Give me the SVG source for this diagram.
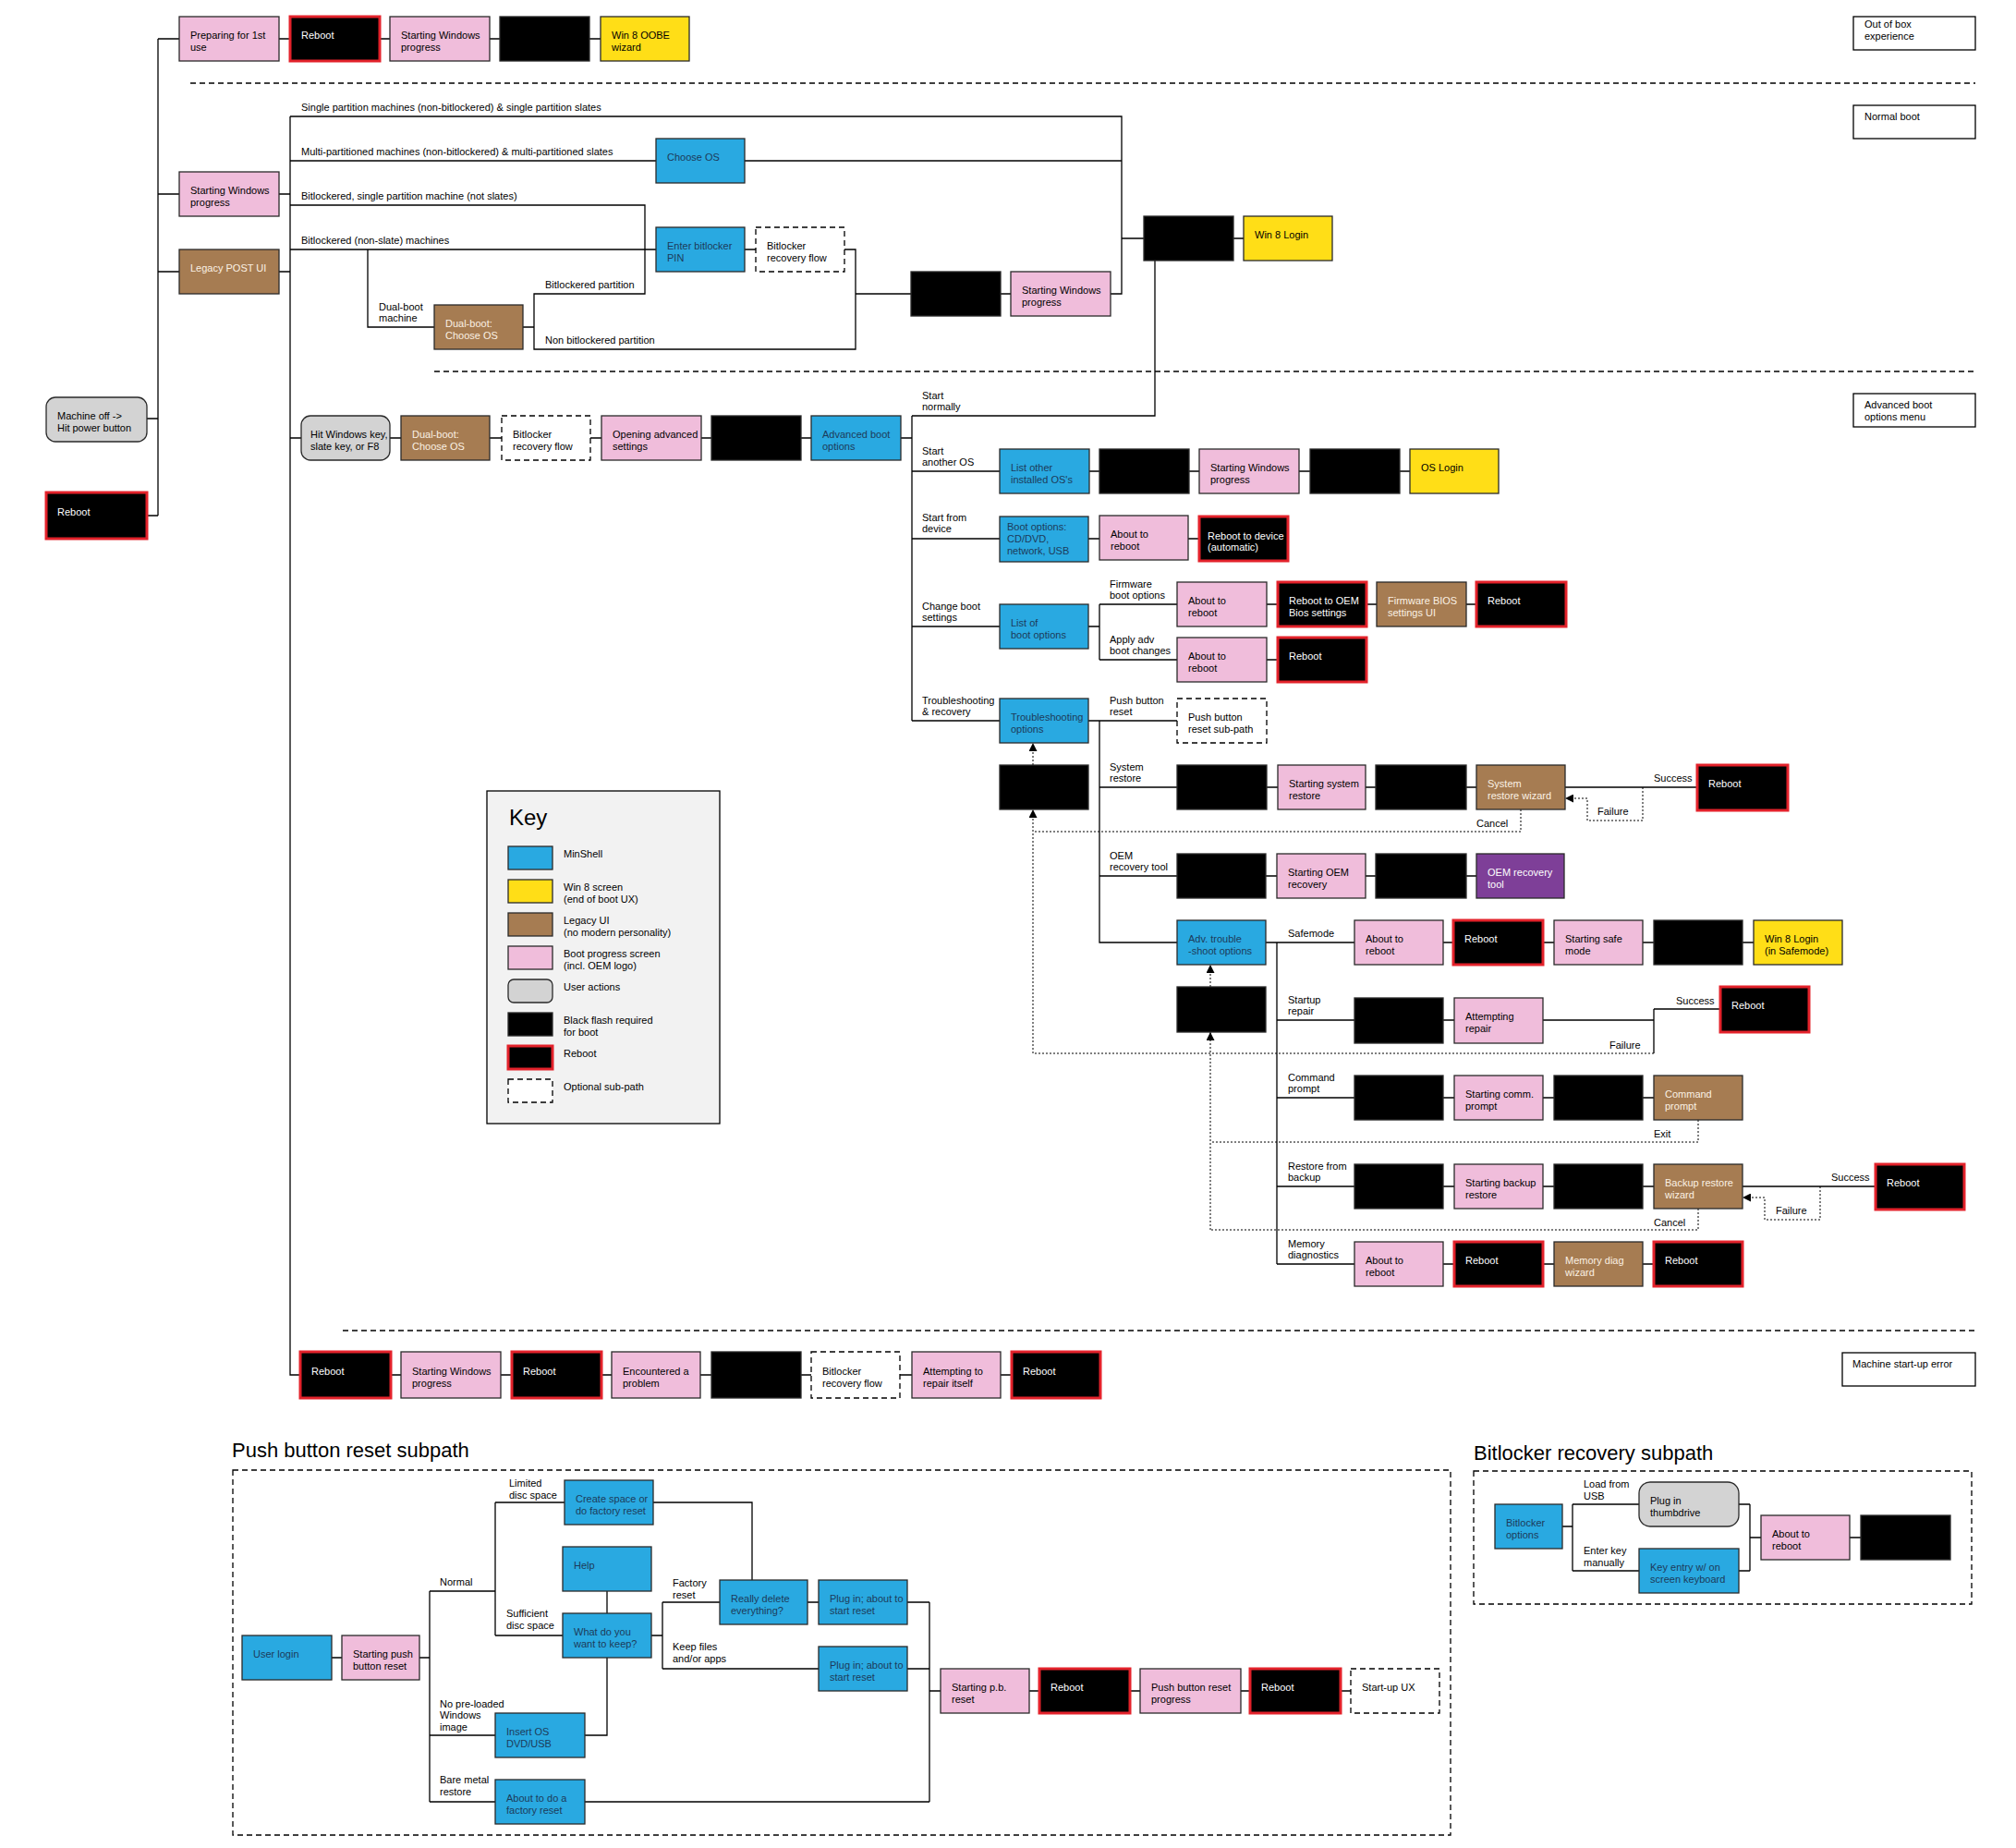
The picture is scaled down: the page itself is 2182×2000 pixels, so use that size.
<svg xmlns="http://www.w3.org/2000/svg" width="2182" height="2000" viewBox="0 0 2182 2000">
<style>
rect{stroke:#2a2a2a;stroke-width:1.3}
.b{fill:#29a9e1}
.y{fill:#ffde17}
.br{fill:#a67c52}
.p{fill:#f0bddb}
.g{fill:#d3d3d3}
.k{fill:#000}
.r{fill:#000;stroke:#e3222b;stroke-width:3}
.d{fill:#fff;stroke:#000;stroke-dasharray:6 4}
.pu{fill:#7e3f98}
.s{fill:#fff;stroke:#000}
text{font-family:"Liberation Sans",Arial,sans-serif;font-size:11px;fill:#000}
.tw{fill:#fff}
.tb{fill:#1d3b5a}
.tc{fill:#fbf1e4}
.h{font-size:22px}
.ln{fill:none;stroke:#000;stroke-width:1.3}
.dot{fill:none;stroke:#000;stroke-width:1;stroke-dasharray:2 2}
.sep{fill:none;stroke:#000;stroke-width:1.5;stroke-dasharray:6 4}
</style>
<defs>
<marker id="ar" viewBox="0 0 10 10" refX="10" refY="5" markerWidth="9" markerHeight="9" markerUnits="userSpaceOnUse" orient="auto"><path d="M0,0 L10,5 L0,10 z" fill="#000"/></marker>
</defs>
<rect x="0" y="0" width="2182" height="2000" style="fill:#fff;stroke:none"/>

<g id="separators">
<path class="sep" d="M206 90 H2138"/>
<path class="sep" d="M470 402 H2138"/>
<path class="sep" d="M371 1440 H2138"/>
<rect class="d" x="252" y="1591" width="1318" height="395" style="fill:none"/>
<rect class="d" x="1595" y="1592" width="539" height="144" style="fill:none"/>
</g>

<g id="connectors">
<path class="ln" d="M171 42 V558 M171 42 H194 M302 42 H314 M411 42 H422 M530 42 H541 M638 42 H650"/>
<path class="ln" d="M159 453 H171 M159 558 H171 M171 210 H194 M171 294 H194 M302 210 H314 M302 294 H314"/>
<path class="ln" d="M314 126 V1488 H325"/>
<path class="ln" d="M314 126 H1214 V318 H1202 M314 174 H710 M806 174 H1214"/>
<path class="ln" d="M314 222 H698 V318 H578 V378 H926 V270 H914 M926 318 H986 M314 270 H710 M398 270 V354 H470 M566 354 H578 M806 270 H818 M1083 318 H1094"/>
<path class="ln" d="M1214 258 H1238 M1335 258 H1346 M1250 282 V450 H987"/>
<path class="ln" d="M314 474 H326 M422 474 H434 M530 474 H543 M639 474 H651 M759 474 H770 M867 474 H878 M975 474 H987 M987 450 V780"/>
<path class="ln" d="M987 510 H1082 M1179 510 H1190 M1287 510 H1298 M1406 510 H1418 M1515 510 H1526"/>
<path class="ln" d="M987 583 H1082 M1178 583 H1190 M1286 583 H1298"/>
<path class="ln" d="M987 678 H1082 M1178 678 H1190 M1190 654 V714 M1190 654 H1274 M1371 654 H1383 M1479 654 H1490 M1587 654 H1598 M1190 714 H1274 M1371 714 H1383"/>
<path class="ln" d="M987 780 H1082 M1178 780 H1274 M1190 780 V1020 H1274"/>
<path class="ln" d="M1190 852 H1274 M1371 852 H1383 M1478 852 H1489 M1587 852 H1598 M1694 852 H1837"/>
<path class="ln" d="M1190 948 H1274 M1370 948 H1382 M1478 948 H1489 M1587 948 H1598"/>
<path class="ln" d="M1370 1020 H1382 V1368 M1382 1020 H1466 M1562 1020 H1573 M1670 1020 H1682 M1778 1020 H1790 M1886 1020 H1898"/>
<path class="ln" d="M1382 1104 H1466 M1562 1104 H1574 M1670 1104 H1790 M1790 1092 V1140 M1790 1092 H1862"/>
<path class="ln" d="M1382 1188 H1466 M1562 1188 H1574 M1670 1188 H1682 M1778 1188 H1790"/>
<path class="ln" d="M1382 1284 H1466 M1562 1284 H1574 M1670 1284 H1682 M1778 1284 H1790 M1886 1284 H2030"/>
<path class="ln" d="M1382 1368 H1466 M1562 1368 H1574 M1670 1368 H1682 M1778 1368 H1790"/>
<path class="ln" d="M423 1488 H434 M542 1488 H554 M651 1488 H662 M758 1488 H770 M867 1488 H878 M974 1488 H987 M1083 1488 H1095"/>
<path class="dot" d="M1118 828 V804" marker-end="url(#ar)"/>
<path class="dot" d="M1118 1140 V876" marker-end="url(#ar)"/>
<path class="dot" d="M1646 876 V900 H1118"/>
<path class="dot" d="M1778 852 V888 H1718 V864 H1694" marker-end="url(#ar)"/>
<path class="dot" d="M1310 1068 V1044" marker-end="url(#ar)"/>
<path class="dot" d="M1310 1331 V1117" marker-end="url(#ar)"/>
<path class="dot" d="M1790 1140 H1118"/>
<path class="dot" d="M1838 1212 V1236 H1310"/>
<path class="dot" d="M1838 1308 V1331 H1310"/>
<path class="dot" d="M1970 1284 V1320 H1910 V1296 H1886" marker-end="url(#ar)"/>
<path class="ln" d="M359 1794 H370 M454 1794 H465 M465 1722 V1950 M465 1722 H536 M536 1626 V1770 M536 1626 H611 M707 1626 H814 V1710 M536 1770 H609 M657 1722 V1746 M705 1770 H717 M717 1734 V1806 M717 1734 H779 M874 1734 H886 M717 1806 H886 M982 1734 H1006 M982 1806 H1006 M1006 1734 V1950 M465 1878 H536 M633 1878 H657 V1794 M465 1950 H536 M633 1950 H1006 M1006 1830 H1018 M1114 1830 H1125 M1223 1830 H1234 M1343 1830 H1353 M1451 1830 H1462"/>
<path class="ln" d="M1691 1652 H1702 M1702 1628 V1700 M1702 1628 H1774 M1702 1700 H1774 M1882 1628 H1894 M1882 1700 H1894 M1894 1628 V1700 M1894 1664 H1906 M2002 1664 H2014"/>
</g>

<g id="connector-labels">
<text x="326" y="120">Single partition machines (non-bitlockered) &amp; single partition slates</text>
<text x="326" y="168">Multi-partitioned machines (non-bitlockered) &amp; multi-partitioned slates</text>
<text x="326" y="216">Bitlockered, single partition machine (not slates)</text>
<text x="326" y="264">Bitlockered (non-slate) machines</text>
<text x="410" y="336">Dual-boot<tspan x="410" dy="12">machine</tspan></text>
<text x="590" y="312">Bitlockered partition</text>
<text x="590" y="372">Non bitlockered partition</text>
<text x="998" y="432">Start<tspan x="998" dy="12">normally</tspan></text>
<text x="998" y="492">Start<tspan x="998" dy="12">another OS</tspan></text>
<text x="998" y="564">Start from<tspan x="998" dy="12">device</tspan></text>
<text x="998" y="660">Change boot<tspan x="998" dy="12">settings</tspan></text>
<text x="998" y="762">Troubleshooting<tspan x="998" dy="12">&amp; recovery</tspan></text>
<text x="1201" y="636">Firmware<tspan x="1201" dy="12">boot options</tspan></text>
<text x="1201" y="696">Apply adv<tspan x="1201" dy="12">boot changes</tspan></text>
<text x="1201" y="762">Push button<tspan x="1201" dy="12">reset</tspan></text>
<text x="1201" y="834">System<tspan x="1201" dy="12">restore</tspan></text>
<text x="1201" y="930">OEM<tspan x="1201" dy="12">recovery tool</tspan></text>
<text x="1394" y="1014">Safemode</text>
<text x="1394" y="1086">Startup<tspan x="1394" dy="12">repair</tspan></text>
<text x="1394" y="1170">Command<tspan x="1394" dy="12">prompt</tspan></text>
<text x="1394" y="1266">Restore from<tspan x="1394" dy="12">backup</tspan></text>
<text x="1394" y="1350">Memory<tspan x="1394" dy="12">diagnostics</tspan></text>
<text x="1790" y="846">Success</text>
<text x="1729" y="882">Failure</text>
<text x="1598" y="895">Cancel</text>
<text x="1814" y="1087">Success</text>
<text x="1742" y="1135">Failure</text>
<text x="1790" y="1231">Exit</text>
<text x="1982" y="1278">Success</text>
<text x="1922" y="1314">Failure</text>
<text x="1790" y="1327">Cancel</text>
<text x="476" y="1716">Normal</text>
<text x="551" y="1609">Limited<tspan x="551" dy="13">disc space</tspan></text>
<text x="548" y="1750">Sufficient<tspan x="548" dy="13">disc space</tspan></text>
<text x="728" y="1717">Factory<tspan x="728" dy="13">reset</tspan></text>
<text x="728" y="1786">Keep files<tspan x="728" dy="13">and/or apps</tspan></text>
<text x="476" y="1848">No pre-loaded<tspan x="476" dy="12">Windows</tspan><tspan x="476" dy="13">image</tspan></text>
<text x="476" y="1930">Bare metal<tspan x="476" dy="13">restore</tspan></text>
<text x="1714" y="1610">Load from<tspan x="1714" dy="13">USB</tspan></text>
<text x="1714" y="1682">Enter key<tspan x="1714" dy="13">manually</tspan></text>
</g>

<g id="section-labels">
<g id="sec-oobe"><rect class="s" x="2006" y="18" width="132" height="36"/><text x="2018" y="30">Out of box<tspan x="2018" dy="13">experience</tspan></text></g>
<g id="sec-normal"><rect class="s" x="2006" y="114" width="132" height="36"/><text x="2018" y="130">Normal boot</text></g>
<g id="sec-adv"><rect class="s" x="2006" y="426" width="132" height="36"/><text x="2018" y="442">Advanced boot<tspan x="2018" dy="13">options menu</tspan></text></g>
<g id="sec-err"><rect class="s" x="1994" y="1464" width="144" height="36"/><text x="2005" y="1480">Machine start-up error</text></g>
</g>

<g id="oobe">
<g id="n-oobe-prep"><rect class="p" x="194" y="18" width="108" height="48"/><text x="206" y="42">Preparing for 1st<tspan x="206" dy="13">use</tspan></text></g>
<g id="n-oobe-reboot"><rect class="r" x="314" y="18" width="97" height="48"/><text class="tw" x="326" y="42">Reboot</text></g>
<g id="n-oobe-start"><rect class="p" x="422" y="18" width="108" height="48"/><text x="434" y="42">Starting Windows<tspan x="434" dy="13">progress</tspan></text></g>
<g id="n-oobe-black"><rect class="k" x="541" y="18" width="97" height="48"/></g>
<g id="n-oobe-wizard"><rect class="y" x="650" y="18" width="96" height="48"/><text x="662" y="42">Win 8 OOBE<tspan x="662" dy="13">wizard</tspan></text></g>
</g>

<g id="left">
<g id="n-machine-off"><rect class="g" x="50" y="430" width="109" height="48" rx="10"/><text x="62" y="454">Machine off -&gt;<tspan x="62" dy="13">Hit power button</tspan></text></g>
<g id="n-reboot-left"><rect class="r" x="50" y="533" width="109" height="50"/><text class="tw" x="62" y="558">Reboot</text></g>
<g id="n-start-win-1"><rect class="p" x="194" y="186" width="108" height="48"/><text x="206" y="210">Starting Windows<tspan x="206" dy="13">progress</tspan></text></g>
<g id="n-legacy-post"><rect class="br" x="194" y="270" width="108" height="48"/><text class="tc" x="206" y="294">Legacy POST UI</text></g>
</g>

<g id="normal-boot">
<g id="n-choose-os"><rect class="b" x="710" y="150" width="96" height="48"/><text class="tb" x="722" y="174">Choose OS</text></g>
<g id="n-enter-pin"><rect class="b" x="710" y="246" width="96" height="48"/><text class="tb" x="722" y="270">Enter bitlocker<tspan x="722" dy="13">PIN</tspan></text></g>
<g id="n-bl-flow-1"><rect class="d" x="818" y="246" width="96" height="48"/><text x="830" y="270">Bitlocker<tspan x="830" dy="13">recovery flow</tspan></text></g>
<g id="n-dualboot-1"><rect class="br" x="470" y="330" width="96" height="48"/><text class="tc" x="482" y="354">Dual-boot:<tspan x="482" dy="13">Choose OS</tspan></text></g>
<g id="n-black-nb"><rect class="k" x="986" y="294" width="97" height="48"/></g>
<g id="n-start-win-2"><rect class="p" x="1094" y="294" width="108" height="48"/><text x="1106" y="318">Starting Windows<tspan x="1106" dy="13">progress</tspan></text></g>
<g id="n-black-login"><rect class="k" x="1238" y="234" width="97" height="48"/></g>
<g id="n-win8-login"><rect class="y" x="1346" y="234" width="96" height="48"/><text x="1358" y="258">Win 8 Login</text></g>
</g>

<g id="advanced-boot">
<g id="n-hit-key"><rect class="g" x="326" y="450" width="96" height="48" rx="10"/><text x="336" y="474">Hit Windows key,<tspan x="336" dy="13">slate key, or F8</tspan></text></g>
<g id="n-dualboot-2"><rect class="br" x="434" y="450" width="96" height="48"/><text class="tc" x="446" y="474">Dual-boot:<tspan x="446" dy="13">Choose OS</tspan></text></g>
<g id="n-bl-flow-2"><rect class="d" x="543" y="450" width="96" height="48"/><text x="555" y="474">Bitlocker<tspan x="555" dy="13">recovery flow</tspan></text></g>
<g id="n-opening"><rect class="p" x="651" y="450" width="108" height="48"/><text x="663" y="474">Opening advanced<tspan x="663" dy="13">settings</tspan></text></g>
<g id="n-black-adv"><rect class="k" x="770" y="450" width="97" height="48"/></g>
<g id="n-adv-opts"><rect class="b" x="878" y="450" width="97" height="48"/><text class="tb" x="890" y="474">Advanced boot<tspan x="890" dy="13">options</tspan></text></g>
<g id="n-list-os"><rect class="b" x="1082" y="486" width="97" height="48"/><text class="tb" x="1094" y="510">List other<tspan x="1094" dy="13">installed OS's</tspan></text></g>
<g id="n-black-os1"><rect class="k" x="1190" y="486" width="97" height="48"/></g>
<g id="n-start-win-3"><rect class="p" x="1298" y="486" width="108" height="48"/><text x="1310" y="510">Starting Windows<tspan x="1310" dy="13">progress</tspan></text></g>
<g id="n-black-os2"><rect class="k" x="1418" y="486" width="97" height="48"/></g>
<g id="n-os-login"><rect class="y" x="1526" y="486" width="96" height="48"/><text x="1538" y="510">OS Login</text></g>
<g id="n-boot-opts"><rect class="b" x="1082" y="559" width="96" height="49"/><text class="tb" x="1090" y="574">Boot options:<tspan x="1090" dy="13">CD/DVD,</tspan><tspan x="1090" dy="13">network, USB</tspan></text></g>
<g id="n-about-dev"><rect class="p" x="1190" y="558" width="96" height="48"/><text x="1202" y="582">About to<tspan x="1202" dy="13">reboot</tspan></text></g>
<g id="n-reboot-dev"><rect class="r" x="1298" y="559" width="96" height="48"/><text class="tw" x="1307" y="584">Reboot to device<tspan x="1307" dy="12">(automatic)</tspan></text></g>
<g id="n-list-boot"><rect class="b" x="1082" y="654" width="96" height="48"/><text class="tb" x="1094" y="678">List of<tspan x="1094" dy="13">boot options</tspan></text></g>
<g id="n-about-fw"><rect class="p" x="1274" y="630" width="97" height="48"/><text x="1286" y="654">About to<tspan x="1286" dy="13">reboot</tspan></text></g>
<g id="n-reboot-oem"><rect class="r" x="1383" y="630" width="96" height="48"/><text class="tw" x="1395" y="654">Reboot to OEM<tspan x="1395" dy="13">Bios settings</tspan></text></g>
<g id="n-fw-bios"><rect class="br" x="1490" y="630" width="97" height="48"/><text class="tc" x="1502" y="654">Firmware BIOS<tspan x="1502" dy="13">settings UI</tspan></text></g>
<g id="n-reboot-fw"><rect class="r" x="1598" y="630" width="97" height="48"/><text class="tw" x="1610" y="654">Reboot</text></g>
<g id="n-about-adv"><rect class="p" x="1274" y="690" width="97" height="48"/><text x="1286" y="714">About to<tspan x="1286" dy="13">reboot</tspan></text></g>
<g id="n-reboot-adv"><rect class="r" x="1383" y="690" width="96" height="48"/><text class="tw" x="1395" y="714">Reboot</text></g>
<g id="n-trouble"><rect class="b" x="1082" y="756" width="96" height="48"/><text class="tb" x="1094" y="780">Troubleshooting<tspan x="1094" dy="13">options</tspan></text></g>
<g id="n-pbr-sub"><rect class="d" x="1274" y="756" width="97" height="48"/><text x="1286" y="780">Push button<tspan x="1286" dy="13">reset sub-path</tspan></text></g>
<g id="n-black-tr"><rect class="k" x="1082" y="828" width="96" height="48"/></g>
<g id="n-black-sr1"><rect class="k" x="1274" y="828" width="97" height="48"/></g>
<g id="n-start-sr"><rect class="p" x="1383" y="828" width="95" height="48"/><text x="1395" y="852">Starting system<tspan x="1395" dy="13">restore</tspan></text></g>
<g id="n-black-sr2"><rect class="k" x="1489" y="828" width="98" height="48"/></g>
<g id="n-sr-wizard"><rect class="br" x="1598" y="828" width="96" height="48"/><text class="tc" x="1610" y="852">System<tspan x="1610" dy="13">restore wizard</tspan></text></g>
<g id="n-reboot-sr"><rect class="r" x="1837" y="828" width="98" height="49"/><text class="tw" x="1849" y="852">Reboot</text></g>
<g id="n-black-oem1"><rect class="k" x="1274" y="924" width="96" height="48"/></g>
<g id="n-start-oem"><rect class="p" x="1382" y="924" width="96" height="48"/><text x="1394" y="948">Starting OEM<tspan x="1394" dy="13">recovery</tspan></text></g>
<g id="n-black-oem2"><rect class="k" x="1489" y="924" width="98" height="48"/></g>
<g id="n-oem-tool"><rect class="pu" x="1598" y="924" width="95" height="48"/><text class="tw" x="1610" y="948">OEM recovery<tspan x="1610" dy="13">tool</tspan></text></g>
<g id="n-adv-trouble"><rect class="b" x="1274" y="996" width="96" height="48"/><text class="tb" x="1286" y="1020">Adv. trouble<tspan x="1286" dy="13">-shoot options</tspan></text></g>
<g id="n-black-adv2"><rect class="k" x="1274" y="1068" width="96" height="49"/></g>
<g id="n-about-safe"><rect class="p" x="1466" y="996" width="96" height="48"/><text x="1478" y="1020">About to<tspan x="1478" dy="13">reboot</tspan></text></g>
<g id="n-reboot-safe"><rect class="r" x="1573" y="996" width="97" height="48"/><text class="tw" x="1585" y="1020">Reboot</text></g>
<g id="n-start-safe"><rect class="p" x="1682" y="996" width="96" height="48"/><text x="1694" y="1020">Starting safe<tspan x="1694" dy="13">mode</tspan></text></g>
<g id="n-black-safe"><rect class="k" x="1790" y="996" width="96" height="48"/></g>
<g id="n-win8-safe"><rect class="y" x="1898" y="996" width="96" height="48"/><text x="1910" y="1020">Win 8 Login<tspan x="1910" dy="13">(in Safemode)</tspan></text></g>
<g id="n-black-rep"><rect class="k" x="1466" y="1080" width="96" height="49"/></g>
<g id="n-attempt-rep"><rect class="p" x="1574" y="1080" width="96" height="49"/><text x="1586" y="1104">Attempting<tspan x="1586" dy="13">repair</tspan></text></g>
<g id="n-reboot-rep"><rect class="r" x="1862" y="1068" width="96" height="49"/><text class="tw" x="1874" y="1092">Reboot</text></g>
<g id="n-black-cmd1"><rect class="k" x="1466" y="1164" width="96" height="48"/></g>
<g id="n-start-cmd"><rect class="p" x="1574" y="1164" width="96" height="48"/><text x="1586" y="1188">Starting comm.<tspan x="1586" dy="13">prompt</tspan></text></g>
<g id="n-black-cmd2"><rect class="k" x="1682" y="1164" width="96" height="48"/></g>
<g id="n-cmd"><rect class="br" x="1790" y="1164" width="96" height="48"/><text class="tc" x="1802" y="1188">Command<tspan x="1802" dy="13">prompt</tspan></text></g>
<g id="n-black-bk1"><rect class="k" x="1466" y="1260" width="96" height="48"/></g>
<g id="n-start-bk"><rect class="p" x="1574" y="1260" width="96" height="48"/><text x="1586" y="1284">Starting backup<tspan x="1586" dy="13">restore</tspan></text></g>
<g id="n-black-bk2"><rect class="k" x="1682" y="1260" width="96" height="48"/></g>
<g id="n-bk-wizard"><rect class="br" x="1790" y="1260" width="96" height="48"/><text class="tc" x="1802" y="1284">Backup restore<tspan x="1802" dy="13">wizard</tspan></text></g>
<g id="n-reboot-bk"><rect class="r" x="2030" y="1260" width="96" height="49"/><text class="tw" x="2042" y="1284">Reboot</text></g>
<g id="n-about-mem"><rect class="p" x="1466" y="1344" width="96" height="48"/><text x="1478" y="1368">About to<tspan x="1478" dy="13">reboot</tspan></text></g>
<g id="n-reboot-mem1"><rect class="r" x="1574" y="1344" width="96" height="48"/><text class="tw" x="1586" y="1368">Reboot</text></g>
<g id="n-mem-diag"><rect class="br" x="1682" y="1344" width="96" height="48"/><text class="tc" x="1694" y="1368">Memory diag<tspan x="1694" dy="13">wizard</tspan></text></g>
<g id="n-reboot-mem2"><rect class="r" x="1790" y="1344" width="96" height="48"/><text class="tw" x="1802" y="1368">Reboot</text></g>
</g>

<g id="startup-error">
<g id="n-err-reboot1"><rect class="r" x="325" y="1463" width="98" height="50"/><text class="tw" x="337" y="1488">Reboot</text></g>
<g id="n-err-start"><rect class="p" x="434" y="1463" width="108" height="50"/><text x="446" y="1488">Starting Windows<tspan x="446" dy="13">progress</tspan></text></g>
<g id="n-err-reboot2"><rect class="r" x="554" y="1463" width="97" height="50"/><text class="tw" x="566" y="1488">Reboot</text></g>
<g id="n-err-problem"><rect class="p" x="662" y="1463" width="96" height="50"/><text x="674" y="1488">Encountered a<tspan x="674" dy="13">problem</tspan></text></g>
<g id="n-err-black"><rect class="k" x="770" y="1463" width="97" height="50"/></g>
<g id="n-err-bl"><rect class="d" x="878" y="1463" width="96" height="50"/><text x="890" y="1488">Bitlocker<tspan x="890" dy="13">recovery flow</tspan></text></g>
<g id="n-err-repair"><rect class="p" x="987" y="1463" width="96" height="50"/><text x="999" y="1488">Attempting to<tspan x="999" dy="13">repair itself</tspan></text></g>
<g id="n-err-reboot3"><rect class="r" x="1095" y="1463" width="96" height="50"/><text class="tw" x="1107" y="1488">Reboot</text></g>
</g>

<g id="key">
<rect x="527" y="856" width="252" height="360" style="fill:#f2f2f2;stroke:#000"/>
<text x="551" y="893" style="font-size:24px">Key</text>
<rect class="b" x="550" y="916" width="48" height="25"/><text x="610" y="928">MinShell</text>
<rect class="y" x="550" y="952" width="48" height="25"/><text x="610" y="964">Win 8 screen<tspan x="610" dy="13">(end of boot UX)</tspan></text>
<rect class="br" x="550" y="988" width="48" height="25"/><text x="610" y="1000">Legacy UI<tspan x="610" dy="13">(no modern personality)</tspan></text>
<rect class="p" x="550" y="1024" width="48" height="25"/><text x="610" y="1036">Boot progress screen<tspan x="610" dy="13">(incl. OEM logo)</tspan></text>
<rect class="g" x="550" y="1060" width="48" height="25" rx="6"/><text x="610" y="1072">User actions</text>
<rect class="k" x="550" y="1096" width="48" height="25"/><text x="610" y="1108">Black flash required<tspan x="610" dy="13">for boot</tspan></text>
<rect class="r" x="550" y="1132" width="48" height="25"/><text x="610" y="1144">Reboot</text>
<rect class="d" x="550" y="1168" width="48" height="25"/><text x="610" y="1180">Optional sub-path</text>
</g>

<g id="push-button-subpath">
<text class="h" x="251" y="1577">Push button reset subpath</text>
<g id="n-user-login"><rect class="b" x="262" y="1770" width="97" height="48"/><text class="tb" x="274" y="1794">User login</text></g>
<g id="n-start-pbr"><rect class="p" x="370" y="1770" width="84" height="48"/><text x="382" y="1794">Starting push<tspan x="382" dy="13">button reset</tspan></text></g>
<g id="n-create-space"><rect class="b" x="611" y="1602" width="96" height="48"/><text class="tb" x="623" y="1626">Create space or<tspan x="623" dy="13">do factory reset</tspan></text></g>
<g id="n-help"><rect class="b" x="609" y="1674" width="96" height="48"/><text class="tb" x="621" y="1698">Help</text></g>
<g id="n-what-keep"><rect class="b" x="609" y="1746" width="96" height="48"/><text class="tb" x="621" y="1770">What do you<tspan x="621" dy="13">want to keep?</tspan></text></g>
<g id="n-really-delete"><rect class="b" x="779" y="1710" width="95" height="48"/><text class="tb" x="791" y="1734">Really delete<tspan x="791" dy="13">everything?</tspan></text></g>
<g id="n-plug-1"><rect class="b" x="886" y="1710" width="96" height="48"/><text class="tb" x="898" y="1734">Plug in; about to<tspan x="898" dy="13">start reset</tspan></text></g>
<g id="n-plug-2"><rect class="b" x="886" y="1782" width="96" height="48"/><text class="tb" x="898" y="1806">Plug in; about to<tspan x="898" dy="13">start reset</tspan></text></g>
<g id="n-insert-os"><rect class="b" x="536" y="1854" width="97" height="48"/><text class="tb" x="548" y="1878">Insert OS<tspan x="548" dy="13">DVD/USB</tspan></text></g>
<g id="n-about-factory"><rect class="b" x="536" y="1926" width="97" height="48"/><text class="tb" x="548" y="1950">About to do a<tspan x="548" dy="13">factory reset</tspan></text></g>
<g id="n-start-pb"><rect class="p" x="1018" y="1806" width="96" height="48"/><text x="1030" y="1830">Starting p.b.<tspan x="1030" dy="13">reset</tspan></text></g>
<g id="n-pb-reboot1"><rect class="r" x="1125" y="1806" width="98" height="48"/><text class="tw" x="1137" y="1830">Reboot</text></g>
<g id="n-pb-progress"><rect class="p" x="1234" y="1806" width="109" height="48"/><text x="1246" y="1830">Push button reset<tspan x="1246" dy="13">progress</tspan></text></g>
<g id="n-pb-reboot2"><rect class="r" x="1353" y="1806" width="98" height="48"/><text class="tw" x="1365" y="1830">Reboot</text></g>
<g id="n-startup-ux"><rect class="d" x="1462" y="1806" width="96" height="48"/><text x="1474" y="1830">Start-up UX</text></g>
</g>

<g id="bitlocker-subpath">
<text class="h" x="1595" y="1580">Bitlocker recovery subpath</text>
<g id="n-bl-options"><rect class="b" x="1618" y="1628" width="73" height="48"/><text class="tb" x="1630" y="1652">Bitlocker<tspan x="1630" dy="13">options</tspan></text></g>
<g id="n-plug-thumb"><rect class="g" x="1774" y="1604" width="108" height="48" rx="12"/><text x="1786" y="1628">Plug in<tspan x="1786" dy="13">thumbdrive</tspan></text></g>
<g id="n-key-entry"><rect class="b" x="1774" y="1676" width="108" height="48"/><text class="tb" x="1786" y="1700">Key entry w/ on<tspan x="1786" dy="13">screen keyboard</tspan></text></g>
<g id="n-bl-about"><rect class="p" x="1906" y="1640" width="96" height="48"/><text x="1918" y="1664">About to<tspan x="1918" dy="13">reboot</tspan></text></g>
<g id="n-bl-black"><rect class="k" x="2014" y="1640" width="97" height="48"/></g>
</g>
</svg>
